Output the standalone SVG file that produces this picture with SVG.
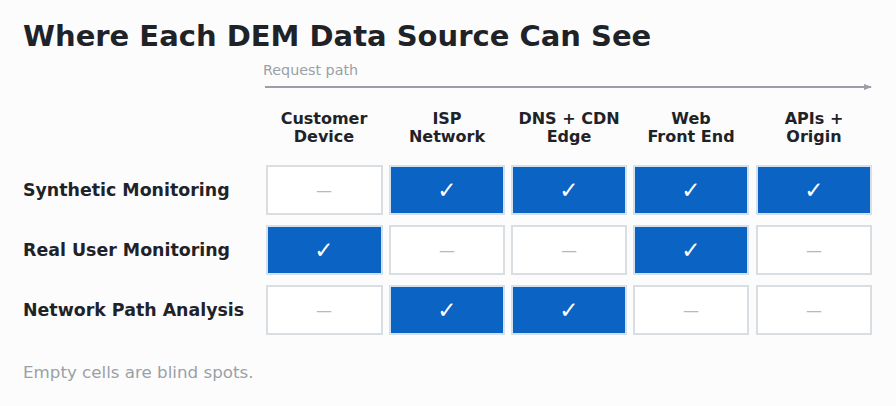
<svg xmlns="http://www.w3.org/2000/svg" width="896" height="406" viewBox="0 0 896 406">
<defs>
<marker id="ah" markerWidth="8" markerHeight="8" refX="7" refY="4" orient="auto" markerUnits="userSpaceOnUse"><path d="M0,1 L8,4 L0,7 Z" fill="#9aa0a6"/></marker>
<style>
text{font-family:"DejaVu Sans",sans-serif}
.t{font-size:29px;font-weight:bold;fill:#1f2328}
.h{font-size:16px;font-weight:bold;fill:#1f2328;text-anchor:middle}
.r{font-size:17.4px;font-weight:bold;fill:#1f2328}
.g{fill:#9aa0a6}
.on{fill:#0b63c4;stroke:#d4e0ec;stroke-width:2}
.off{fill:#ffffff;stroke:#d9dee3;stroke-width:2}
.ck{font-size:23px;fill:#ffffff;text-anchor:middle}
.ds{font-size:16px;fill:#b5bac0;text-anchor:middle}
</style>
</defs>
<rect width="896" height="406" fill="#fcfcfd"/>
<text class="t" x="23" y="46">Where Each DEM Data Source Can See</text>
<text class="g" x="263" y="75" font-size="14.3">Request path</text>
<g id="connectors"><line x1="265" y1="87" x2="871" y2="87" stroke="#9aa0a6" stroke-width="2" marker-end="url(#ah)"/></g>
<g id="headers">
<text class="h" x="324" y="124">Customer</text><text class="h" x="324" y="142">Device</text>
<text class="h" x="447" y="124">ISP</text><text class="h" x="447" y="142">Network</text>
<text class="h" x="569" y="124">DNS + CDN</text><text class="h" x="569" y="142">Edge</text>
<text class="h" x="691" y="124">Web</text><text class="h" x="691" y="142">Front End</text>
<text class="h" x="814" y="124">APIs +</text><text class="h" x="814" y="142">Origin</text>
</g>
<g id="row1">
<text class="r" x="23" y="196">Synthetic Monitoring</text>
<rect class="off" x="267" y="166" width="115" height="48"/><text class="ds" x="324" y="196">—</text>
<rect class="on" x="390" y="166" width="114" height="48"/><text class="ck" x="447" y="198">✓</text>
<rect class="on" x="512" y="166" width="114" height="48"/><text class="ck" x="569" y="198">✓</text>
<rect class="on" x="634" y="166" width="114" height="48"/><text class="ck" x="691" y="198">✓</text>
<rect class="on" x="757" y="166" width="114" height="48"/><text class="ck" x="814" y="198">✓</text>
</g>
<g id="row2">
<text class="r" x="23" y="256">Real User Monitoring</text>
<rect class="on" x="267" y="226" width="115" height="48"/><text class="ck" x="324" y="258">✓</text>
<rect class="off" x="390" y="226" width="114" height="48"/><text class="ds" x="447" y="256">—</text>
<rect class="off" x="512" y="226" width="114" height="48"/><text class="ds" x="569" y="256">—</text>
<rect class="on" x="634" y="226" width="114" height="48"/><text class="ck" x="691" y="258">✓</text>
<rect class="off" x="757" y="226" width="114" height="48"/><text class="ds" x="814" y="256">—</text>
</g>
<g id="row3">
<text class="r" x="23" y="316">Network Path Analysis</text>
<rect class="off" x="267" y="286" width="115" height="48"/><text class="ds" x="324" y="316">—</text>
<rect class="on" x="390" y="286" width="114" height="48"/><text class="ck" x="447" y="318">✓</text>
<rect class="on" x="512" y="286" width="114" height="48"/><text class="ck" x="569" y="318">✓</text>
<rect class="off" x="634" y="286" width="114" height="48"/><text class="ds" x="691" y="316">—</text>
<rect class="off" x="757" y="286" width="114" height="48"/><text class="ds" x="814" y="316">—</text>
</g>
<text class="g" x="23" y="378" font-size="16.7">Empty cells are blind spots.</text>
</svg>
